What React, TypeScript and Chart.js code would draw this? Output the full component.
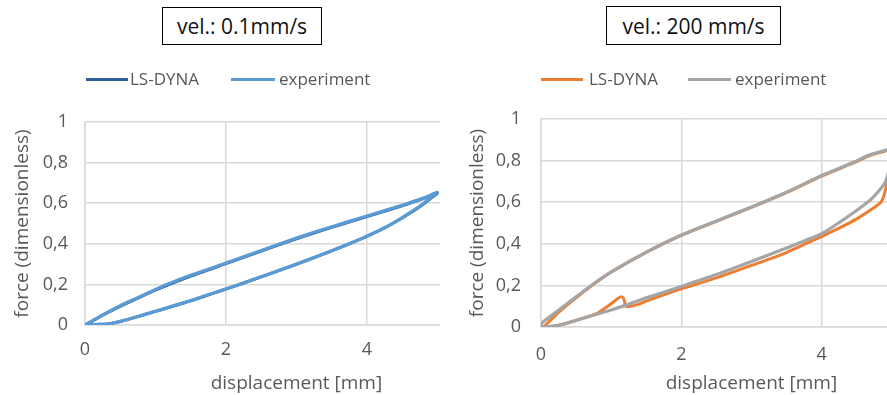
import React, { useEffect, useRef } from 'react';
import { Chart, registerables } from 'chart.js';

Chart.register(...registerables);

// ---------- data ----------
const xTickValues = [0, 2, 4, 6];
const xTickLabels = ['0', '2', '4', '6'];
const yTickValues = [0, 0.2, 0.4, 0.6, 0.8, 1];
const yTickLabels = ['0', '0,2', '0,4', '0,6', '0,8', '1'];

const legendNames = ['LS-DYNA', 'experiment'];
const panelTitles = ['vel.: 0.1mm/s', 'vel.: 200 mm/s'];
const xAxisTitle = 'displacement [mm]';
const yAxisTitle = 'force (dimensionless)';

// vel. 0.1 mm/s — experiment
const slowExpDisp = [0, 0.1, 0.25, 0.5, 0.75, 1.0, 1.16, 1.5, 2.0, 2.5, 3.0, 3.5, 4.0, 4.5, 4.8, 5.0,
  4.9, 4.75, 4.6, 4.47, 4.25, 4.0, 3.75, 3.5, 3.0, 2.5, 2.19, 2.0, 1.5, 1.0, 0.75, 0.5, 0.35, 0.2, 0.1, 0];
const slowExpForce = [0, 0.02, 0.05, 0.095, 0.135, 0.175, 0.2, 0.245, 0.305, 0.367, 0.428, 0.484, 0.537, 0.59, 0.625, 0.653,
  0.625, 0.585, 0.551, 0.522, 0.479, 0.438, 0.4, 0.366, 0.3, 0.238, 0.2, 0.178, 0.12, 0.068, 0.042, 0.018, 0.006, 0.004, 0.0, 0];
// vel. 0.1 mm/s — LS-DYNA
const slowDynaDisp = [0, 0.1, 0.25, 0.5, 0.75, 1.0, 1.5, 2.0, 2.5, 3.0, 3.5, 4.0, 4.5, 4.8, 5.0,
  4.9, 4.75, 4.6, 4.5, 4.25, 4.0, 3.5, 3.0, 2.5, 2.0, 1.5, 1.0, 0.75, 0.5, 0.3, 0.15, 0];
const slowDynaForce = [0, 0.018, 0.048, 0.092, 0.132, 0.172, 0.241, 0.302, 0.364, 0.425, 0.481, 0.534, 0.587, 0.623, 0.65,
  0.622, 0.583, 0.549, 0.527, 0.478, 0.437, 0.365, 0.299, 0.237, 0.177, 0.119, 0.067, 0.041, 0.017, 0.004, 0.0, 0];

// vel. 200 mm/s — experiment
const fastExpDisp = [0, 0.05, 0.25, 0.5, 0.75, 1.0, 1.5, 2.0, 2.5, 3.0, 3.5, 4.0, 4.5, 4.66, 4.9, 5.0,
  4.95, 4.9, 4.8, 4.7, 4.57, 4.5, 4.25, 4.0, 3.5, 3.0, 2.5, 2.0, 1.5, 1.2, 1.0, 0.8, 0.5, 0.3, 0.15, 0];
const fastExpForce = [0.015, 0.03, 0.08, 0.145, 0.208, 0.265, 0.36, 0.442, 0.51, 0.577, 0.648, 0.728, 0.798, 0.825, 0.848, 0.856,
  0.74, 0.69, 0.648, 0.612, 0.578, 0.56, 0.502, 0.448, 0.38, 0.315, 0.252, 0.195, 0.14, 0.104, 0.082, 0.062, 0.032, 0.012, 0.003, 0];
// vel. 200 mm/s — LS-DYNA
const fastDynaDisp = [0, 0.05, 0.25, 0.5, 0.75, 1.0, 1.5, 2.0, 2.5, 3.0, 3.5, 4.0, 4.5, 4.66, 4.9, 5.0,
  4.95, 4.9, 4.87, 4.84, 4.75, 4.5, 4.25, 4.0, 3.5, 3.0, 2.5, 2.0, 1.5, 1.4, 1.25, 1.21, 1.18, 1.15, 1.1, 1.0, 0.9, 0.8, 0.5, 0.3, 0.15, 0];
const fastDynaForce = [0, 0.005, 0.07, 0.14, 0.205, 0.263, 0.358, 0.44, 0.508, 0.575, 0.646, 0.725, 0.795, 0.821, 0.845, 0.855,
  0.72, 0.645, 0.615, 0.598, 0.575, 0.52, 0.475, 0.435, 0.358, 0.296, 0.236, 0.183, 0.124, 0.11, 0.098, 0.1, 0.135, 0.146, 0.138, 0.112, 0.088, 0.066, 0.032, 0.012, 0.002, 0];

// ---------- styling ----------
const FONT = '"Open Sans", "DejaVu Sans", sans-serif';
const TEXT = '#595959';
const GRID = '#D9D9D9';

const pts = (xs: number[], ys: number[]) => xs.map((x, i) => ({ x, y: ys[i] }));

type PanelProps = {
  left: number;
  clipWidth: number;
  canvasWidth: number;
  yAxisWidth: number;
  xAxisHeight: number;
  plotTop: number;
  yTickPad: number;
  xTickPad: number;
  yTitlePad: number;
  xTitlePad: number;
  dyna: { x: number; y: number }[];
  exp: { x: number; y: number }[];
  dynaColor: string;
  expColor: string;
  dynaWidth: number;
  expWidth: number;
};

function Panel(p: PanelProps) {
  const ref = useRef<HTMLCanvasElement | null>(null);
  useEffect(() => {
    if (!ref.current) return;
    const lineDs = (label: string, data: any[], color: string, width: number, order: number) => ({
      label,
      data,
      showLine: true,
      borderColor: color,
      backgroundColor: color,
      borderWidth: width,
      pointRadius: 0,
      tension: 0.2,
      borderJoinStyle: 'round',
      borderCapStyle: 'round',
      order,
    });
    const chart = new Chart(ref.current, {
      type: 'scatter',
      data: {
        datasets: [
          lineDs(legendNames[0], p.dyna, p.dynaColor, p.dynaWidth, 1),
          lineDs(legendNames[1], p.exp, p.expColor, p.expWidth, 0),
        ],
      },
      options: {
        animation: false,
        responsive: false,
        maintainAspectRatio: false,
        layout: { padding: { left: 0, right: 10, top: p.plotTop, bottom: 0 } },
        plugins: { legend: { display: false }, tooltip: { enabled: false }, title: { display: false } },
        scales: {
          x: {
            type: 'linear',
            min: 0,
            max: 6,
            afterBuildTicks: (s: any) => { s.ticks = xTickValues.map((v) => ({ value: v })); },
            afterFit: (s: any) => { s.height = p.xAxisHeight; },
            ticks: {
              color: TEXT,
              font: { family: FONT, size: 18 },
              padding: p.xTickPad,
              callback: (_v: any, i: number) => xTickLabels[i],
              maxRotation: 0,
            },
            grid: { color: GRID, lineWidth: 1.5, drawTicks: false },
            border: { color: GRID, width: 1.5 },
            title: {
              display: true,
              text: xAxisTitle,
              color: TEXT,
              font: { family: FONT, size: 19 },
              padding: { top: 0, bottom: p.xTitlePad },
            },
          },
          y: {
            type: 'linear',
            min: 0,
            max: 1,
            afterBuildTicks: (s: any) => { s.ticks = yTickValues.map((v) => ({ value: v })); },
            afterFit: (s: any) => { s.width = p.yAxisWidth; },
            ticks: {
              color: TEXT,
              font: { family: FONT, size: 18 },
              padding: p.yTickPad,
              callback: (_v: any, i: number) => yTickLabels[i],
            },
            grid: { color: GRID, lineWidth: 1.5, drawTicks: false },
            border: { color: GRID, width: 1.5 },
            title: {
              display: true,
              text: yAxisTitle,
              color: TEXT,
              font: { family: FONT, size: 19 },
              padding: { top: p.yTitlePad, bottom: 0 },
            },
          },
        },
      },
    } as any);
    return () => chart.destroy();
  }, []);
  return (
    <div style={{ position: 'absolute', left: p.left, top: 0, width: p.clipWidth, height: 395, overflow: 'hidden' }}>
      <canvas ref={ref} width={p.canvasWidth} height={395} style={{ width: p.canvasWidth, height: 395, display: 'block' }} />
    </div>
  );
}

const titleStyle = (left: number, top: number, w: number, h: number): React.CSSProperties => ({
  position: 'absolute', left, top, width: w, height: h, boxSizing: 'border-box',
  border: '1.5px solid #000', fontFamily: FONT, fontSize: 21, color: '#111',
  display: 'flex', alignItems: 'center', justifyContent: 'center', whiteSpace: 'nowrap', background: '#fff',
});

function LegendItem({ x1, x2, tx, y, color, text }: { x1: number; x2: number; tx: number; y: number; color: string; text: string }) {
  return (
    <>
      <div style={{ position: 'absolute', left: x1, top: y - 1.5, width: x2 - x1, height: 3, background: color }} />
      <div style={{ position: 'absolute', left: tx, top: y - 12, height: 24, lineHeight: '24px', fontFamily: FONT, fontSize: 17, color: TEXT, whiteSpace: 'nowrap' }}>{text}</div>
    </>
  );
}

export default function App() {
  const c = { slowDyna: '#2D6196', slowExp: '#5B9BD5', fastDyna: '#ED7D31', fastExp: '#A5A5A5' };
  return (
    <div style={{ position: 'absolute', left: 0, top: 0, width: 887, height: 395, overflow: 'hidden', background: '#fff' }}>
      <Panel left={0} clipWidth={440} canvasWidth={527} yAxisWidth={85} xAxisHeight={70} plotTop={122}
        yTickPad={17} xTickPad={14} yTitlePad={11} xTitlePad={0}
        dyna={pts(slowDynaDisp, slowDynaForce)} exp={pts(slowExpDisp, slowExpForce)}
        dynaColor={c.slowDyna} expColor={c.slowExp} dynaWidth={3} expWidth={3.2} />
      <Panel left={444} clipWidth={443} canvasWidth={540} yAxisWidth={97} xAxisHeight={68} plotTop={119}
        yTickPad={20} xTickPad={17} yTitlePad={22} xTitlePad={0}
        dyna={pts(fastDynaDisp, fastDynaForce)} exp={pts(fastExpDisp, fastExpForce)}
        dynaColor={c.fastDyna} expColor={c.fastExp} dynaWidth={3} expWidth={3.2} />

      <div style={titleStyle(162, 7, 160, 38)}>{panelTitles[0]}</div>
      <div style={titleStyle(606, 6, 175, 39)}>{panelTitles[1]}</div>

      <LegendItem x1={86} x2={128} tx={130} y={79} color={c.slowDyna} text={legendNames[0]} />
      <LegendItem x1={231} x2={275} tx={279} y={79} color={c.slowExp} text={legendNames[1]} />
      <LegendItem x1={541} x2={583} tx={589} y={79} color={c.fastDyna} text={legendNames[0]} />
      <LegendItem x1={688} x2={731} tx={735} y={79} color={c.fastExp} text={legendNames[1]} />
    </div>
  );
}
